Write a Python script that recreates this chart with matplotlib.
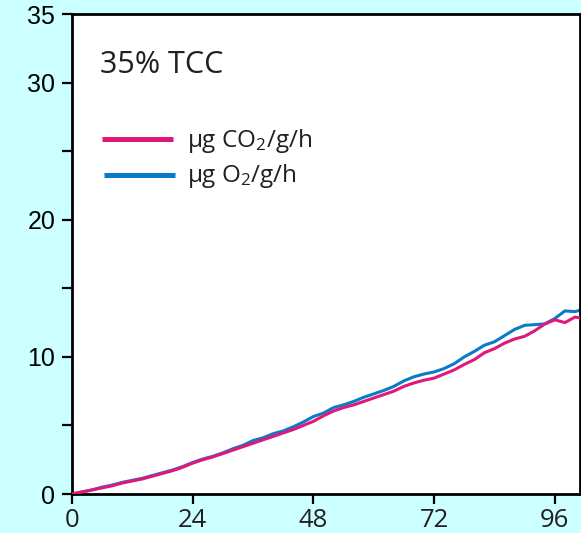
import matplotlib
matplotlib.use("Agg")
import matplotlib.pyplot as plt

hours = [0, 2, 4, 6, 8, 10, 12, 14, 16, 18, 20, 22, 24, 26, 28, 30, 32, 34, 36, 38,
         40, 42, 44, 46, 48, 50, 52, 54, 56, 58, 60, 62, 64, 66, 68, 70, 72, 74, 76, 78,
         80, 82, 84, 86, 88, 90, 92, 94, 96, 98, 100, 101]
co2 = [0, 0.15, 0.3, 0.45, 0.6, 0.8, 0.95, 1.1, 1.3, 1.5, 1.7, 1.95, 2.25, 2.5, 2.7, 2.95,
       3.2, 3.45, 3.7, 3.95, 4.2, 4.45, 4.7, 5.0, 5.3, 5.7, 6.05, 6.3, 6.5, 6.75, 7.0, 7.25,
       7.5, 7.85, 8.1, 8.3, 8.45, 8.75, 9.05, 9.45, 9.8, 10.3, 10.6, 11.0, 11.3, 11.5, 11.9,
       12.4, 12.7, 12.5, 12.9, 12.85]
o2 = [0, 0.15, 0.3, 0.5, 0.65, 0.85, 1.0, 1.15, 1.35, 1.55, 1.75, 2.0, 2.3, 2.55, 2.75, 3.0,
      3.3, 3.55, 3.9, 4.1, 4.4, 4.6, 4.9, 5.25, 5.65, 5.9, 6.3, 6.5, 6.75, 7.05, 7.3, 7.55,
      7.85, 8.25, 8.55, 8.75, 8.9, 9.15, 9.5, 10.0, 10.4, 10.85, 11.1, 11.55, 12.0, 12.3, 12.35,
      12.4, 12.8, 13.35, 13.3, 13.4]
x_ticks = [0, 24, 48, 72, 96]
y_ticks = [0, 5, 10, 15, 20, 25, 30, 35]
y_labels = ["0", "", "10", "", "20", "", "30", "35"]
title = "35% TCC"
label_co2 = "μg CO$_2$/g/h"
label_o2 = "μg O$_2$/g/h"

PINK = "#E0187A"
BLUE = "#0A7BC8"

plt.rcParams["mathtext.fontset"] = "custom"
plt.rcParams["mathtext.rm"] = "Open Sans"
plt.rcParams["mathtext.it"] = "Open Sans"

fig = plt.figure(figsize=(5.81, 5.33), dpi=100, facecolor="#CCFFFF")
ax = fig.add_axes([72/581, 39/533, 508/581, 480/533])
ax.set_facecolor("white")

ax.plot(hours, co2, color=PINK, lw=2.2, zorder=3)
ax.plot(hours, o2, color=BLUE, lw=2.2, zorder=2)

ax.set_xlim(0, 101)
ax.set_ylim(0, 35)
ax.set_xticks(x_ticks)
ax.set_xticklabels([str(t) for t in x_ticks], fontfamily="Open Sans", fontsize=18.5, color="#231F20")
ax.set_yticks(y_ticks)
ax.set_yticklabels(y_labels, fontfamily="Liberation Sans", fontsize=18, color="black")
ax.tick_params(axis="both", direction="out", length=7, width=1.6, color="black")
ax.tick_params(axis="x", pad=3)
ax.tick_params(axis="y", pad=5)
for s in ax.spines.values():
    s.set_linewidth(2)
    s.set_color("black")

ax.text(0.055, 0.877, title, transform=ax.transAxes, fontfamily="Open Sans",
        fontsize=22, color="#231F20", va="baseline", ha="left")

# legend
ax.plot([0.059, 0.199], [0.740, 0.740], transform=ax.transAxes, color=PINK, lw=3.6,
        solid_capstyle="butt", clip_on=False)
ax.plot([0.063, 0.203], [0.665, 0.665], transform=ax.transAxes, color=BLUE, lw=3.6,
        solid_capstyle="butt", clip_on=False)
ax.text(0.226, 0.723, label_co2, transform=ax.transAxes, fontfamily="Open Sans",
        fontsize=17.5, color="#231F20", va="baseline", ha="left")
ax.text(0.226, 0.650, label_o2, transform=ax.transAxes, fontfamily="Open Sans",
        fontsize=17.5, color="#231F20", va="baseline", ha="left")

fig.savefig("out.png", dpi=100, facecolor=fig.get_facecolor())
